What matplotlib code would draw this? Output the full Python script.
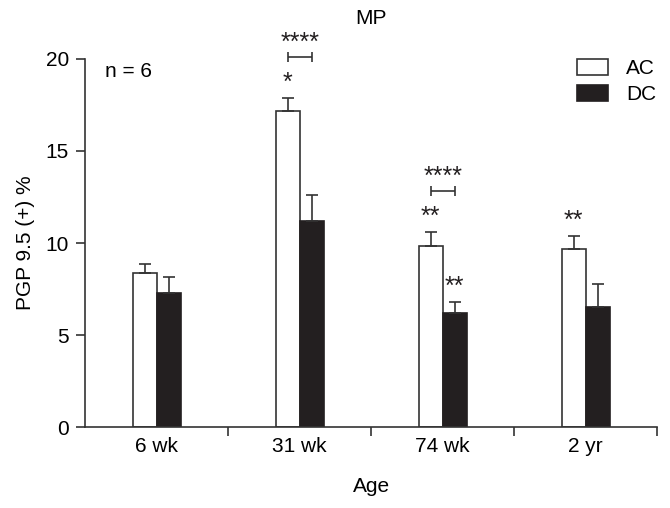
import numpy as np
import matplotlib
matplotlib.use('Agg')
import matplotlib.pyplot as plt
from matplotlib.ticker import FixedLocator, NullFormatter

plt.rcParams['font.family'] = ['Liberation Sans', 'DejaVu Sans']

ages = ['6 wk', '31 wk', '74 wk', '2 yr']
ac_mean = [8.35, 17.2, 9.85, 9.65]
ac_err = [0.5, 0.67, 0.73, 0.71]
dc_mean = [7.3, 11.2, 6.2, 6.5]
dc_err = [0.87, 1.4, 0.6, 1.27]
ac_marks = ['', '*', '**', '**']
dc_marks = ['', '', '**', '']
pair_marks = ['', '****', '****', '']

ink = '#231f20'
line = '#333333'
x = np.arange(len(ages))
w = 0.168
zeros = np.zeros(len(ages))
ekw = dict(ecolor=line, elinewidth=1.2, capsize=4.3, capthick=1.2)
star_fs = 18
star_drop = 0.6  # baseline sits this far below the asterisk centre

fig = plt.figure(figsize=(6.7, 5.08), dpi=100)
ax = fig.add_axes([0.127, 0.1594, 0.854, 0.7245])

ax.bar(x - w/2, ac_mean, w, color='white', edgecolor=line, linewidth=1.2,
       yerr=[zeros, ac_err], error_kw=ekw, label='AC')
ax.bar(x + w/2, dc_mean, w, color=ink, edgecolor=ink, linewidth=1.2,
       yerr=[zeros, dc_err], error_kw=ekw, label='DC')

def star(xpos, ycenter, s):
    ax.text(xpos, ycenter - star_drop, s, ha='center', va='baseline',
            fontsize=star_fs, color=ink, clip_on=False)

for i in range(len(ages)):
    if ac_marks[i]:
        star(x[i] - w/2, ac_mean[i] + ac_err[i] + 1.05, ac_marks[i])
    if dc_marks[i]:
        star(x[i] + w/2, dc_mean[i] + dc_err[i] + 1.05, dc_marks[i])
    if pair_marks[i]:
        top = ac_mean[i] + ac_err[i] + 2.22
        ax.errorbar([x[i]], [top], xerr=[[w/2], [w/2]], fmt='none', ecolor=line,
                    elinewidth=1.2, capsize=3.5, capthick=1.2, clip_on=False)
        star(x[i], top + 1.02, pair_marks[i])

ax.set_xlim(-0.5, 3.5)
ax.set_ylim(0, 20)
ax.set_yticks([0, 5, 10, 15, 20])
ax.set_xticks(x)
ax.set_xticklabels(ages)
ax.tick_params(axis='x', which='major', length=0, labelsize=15, pad=7)
ax.xaxis.set_minor_locator(FixedLocator([0.5, 1.5, 2.5, 3.5]))
ax.xaxis.set_minor_formatter(NullFormatter())
ax.tick_params(axis='x', which='minor', length=6.5, width=1.2, color=line)
ax.tick_params(axis='y', length=6.5, width=1.2, color=line, labelsize=15, pad=5)
for s in ['top', 'right']:
    ax.spines[s].set_visible(False)
for s in ['left', 'bottom']:
    ax.spines[s].set_linewidth(1.2)
    ax.spines[s].set_color(line)

ax.set_xlabel('Age', fontsize=15, labelpad=15)
ax.set_ylabel('PGP 9.5 (+) %', fontsize=15, labelpad=8)
ax.set_title('MP', fontsize=15, pad=25)
ax.text(20/572, 1 - 13/368, 'n = 6', transform=ax.transAxes, fontsize=15, va='center', ha='left')

ax.legend(loc='upper right', bbox_to_anchor=(656/670, 1 - 59/508), bbox_transform=fig.transFigure,
          frameon=False, fontsize=15, handlelength=1.5, handleheight=0.77, labelspacing=0.35,
          handletextpad=0.85, borderpad=0, borderaxespad=0)

fig.savefig('out.png', dpi=100)
